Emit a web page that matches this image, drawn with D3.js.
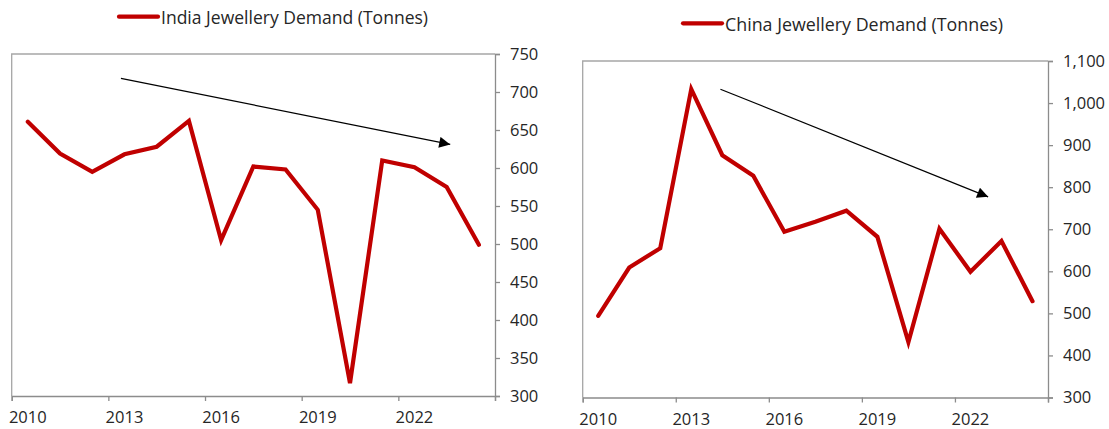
<!DOCTYPE html>
<html>
<head>
<meta charset="utf-8">
<script src="https://cdn.jsdelivr.net/npm/d3@7"></script>
<style>
  html, body { margin: 0; padding: 0; background: #fff; }
  svg { display: block; }
  text { font-family: "Open Sans", "Noto Sans", sans-serif; fill: #262626; }
</style>
</head>
<body>
<svg id="chart" width="1109" height="429"></svg>
<script>
// ---- data ----
const years = [2010, 2011, 2012, 2013, 2014, 2015, 2016, 2017, 2018, 2019, 2020, 2021, 2022, 2023, 2024];
const indiaDemand = [661, 619, 595, 618, 628, 662, 505, 602, 598, 545, 317, 610, 601, 575, 499];
const chinaDemand = [494, 609, 655, 1033, 876, 827, 694, 718, 744, 682, 432, 701, 599, 672, 529];
const xTickLabels = [2010, 2013, 2016, 2019, 2022];
const indiaTicks = [300, 350, 400, 450, 500, 550, 600, 650, 700, 750];
const chinaTicks = [300, 400, 500, 600, 700, 800, 900, 1000, 1100];
const indiaTrend = [[2012.89, 718], [2023.11, 631]];
const chinaTrend = [[2013.94, 1033], [2022.57, 777]];
const indiaLabel = "India Jewellery Demand (Tonnes)";
const chinaLabel = "China Jewellery Demand (Tonnes)";

const svg = d3.select("#chart");
const RED = "#C00000";

svg.append("defs").append("marker")
  .attr("id", "arrowhead")
  .attr("viewBox", "0 0 10 10")
  .attr("refX", 10).attr("refY", 5)
  .attr("markerUnits", "userSpaceOnUse")
  .attr("markerWidth", 13).attr("markerHeight", 11)
  .attr("orient", "auto")
  .append("path").attr("d", "M0,0 L10,5 L0,10 Z").attr("fill", "#000");

function drawPanel(cfg) {
  const g = svg.append("g");
  const x = d3.scaleLinear().domain([years[0] - 0.5, years[years.length - 1] + 0.5]).range([cfg.left, cfg.right]);
  const y = d3.scaleLinear().domain([cfg.ticks[0], cfg.ticks[cfg.ticks.length - 1]]).range([cfg.bottom, cfg.top]);

  // plot border (top & left)
  g.append("path")
    .attr("d", `M${cfg.left},${cfg.bottom} V${cfg.top} H${cfg.right}`)
    .attr("fill", "none").attr("stroke", "#A6A6A6").attr("stroke-width", 1.3);

  // right y axis
  const yAxis = d3.axisRight(y).tickValues(cfg.ticks).tickSize(5).tickPadding(10)
    .tickFormat(d3.format(","));
  const ya = g.append("g").attr("transform", `translate(${cfg.right},0)`).call(yAxis);
  ya.select(".domain").attr("stroke", "#8C8C8C").attr("stroke-width", 1.3);
  ya.selectAll(".tick line").attr("stroke", "#8C8C8C").attr("stroke-width", 1.3);
  ya.selectAll(".tick text").attr("font-size", 16.5).attr("fill", "#262626")
    .attr("font-family", '"Open Sans", sans-serif');

  // bottom x axis: tick marks at category boundaries, labels at category centres
  const boundaries = d3.range(0, years.length + 1, 3).map(i => years[0] - 0.5 + i);
  const xa = g.append("g").attr("transform", `translate(0,${cfg.bottom})`)
    .call(d3.axisBottom(x).tickValues(boundaries).tickSize(5).tickFormat(""));
  xa.select(".domain").attr("stroke", "#8C8C8C").attr("stroke-width", 1.3);
  xa.selectAll(".tick line").attr("stroke", "#8C8C8C").attr("stroke-width", 1.3);
  g.append("g").selectAll("text").data(xTickLabels).join("text")
    .attr("x", d => x(d)).attr("y", cfg.bottom + 27)
    .attr("text-anchor", "middle").attr("font-size", 16.5)
    .text(d => d);

  // series line
  const line = d3.line().x((d, i) => x(years[i])).y(d => y(d));
  g.append("path").datum(cfg.values)
    .attr("d", line).attr("fill", "none").attr("stroke", RED)
    .attr("stroke-width", 4.2).attr("stroke-linejoin", "miter").attr("stroke-linecap", "round");

  // trend arrow
  g.append("line")
    .attr("x1", x(cfg.trend[0][0])).attr("y1", y(cfg.trend[0][1]))
    .attr("x2", x(cfg.trend[1][0])).attr("y2", y(cfg.trend[1][1]))
    .attr("stroke", "#000").attr("stroke-width", 1.2)
    .attr("marker-end", "url(#arrowhead)");

  // legend
  g.append("line")
    .attr("x1", cfg.legX).attr("x2", cfg.legX + 39)
    .attr("y1", cfg.legY).attr("y2", cfg.legY)
    .attr("stroke", RED).attr("stroke-width", 4.2).attr("stroke-linecap", "round");
  g.append("text")
    .attr("x", cfg.legX + 42).attr("y", cfg.legY + 7.5)
    .attr("font-size", 18.5)
    .attr("textLength", cfg.legW).attr("lengthAdjust", "spacingAndGlyphs")
    .text(cfg.label);
}

drawPanel({ left: 11.7, right: 495, top: 54, bottom: 396, ticks: indiaTicks, values: indiaDemand,
  trend: indiaTrend, label: indiaLabel, legX: 119, legY: 16.7, legW: 267 });
drawPanel({ left: 582.7, right: 1048, top: 61, bottom: 397.5, ticks: chinaTicks, values: chinaDemand,
  trend: chinaTrend, label: chinaLabel, legX: 683, legY: 23.3, legW: 278 });
</script>
</body>
</html>
